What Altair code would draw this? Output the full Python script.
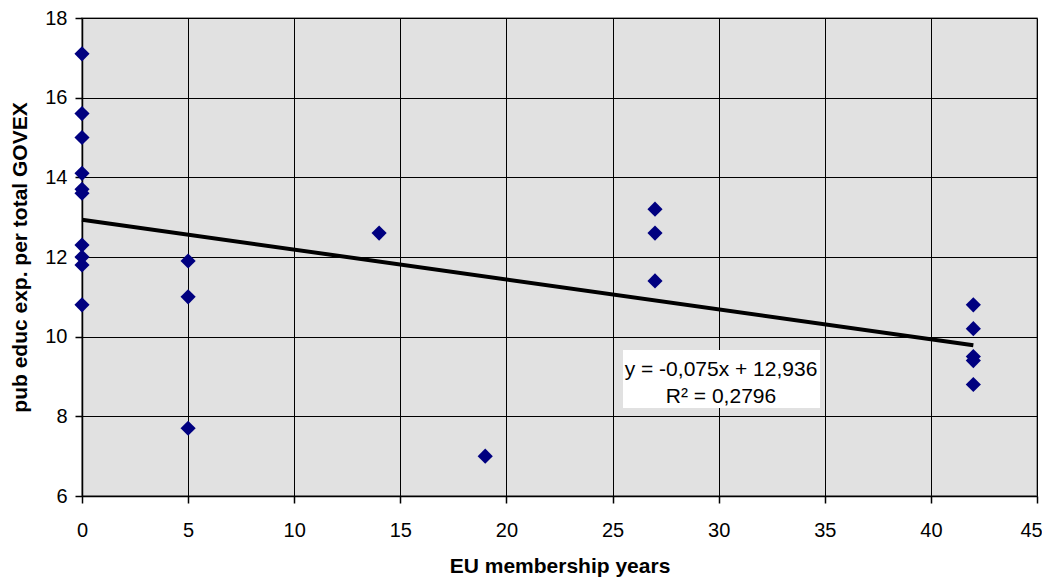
import altair as alt
import pandas as pd

years = [0, 0, 0, 0, 0, 0, 0, 0, 0, 0,
         5, 5, 5,
         14,
         19,
         27, 27, 27,
         42, 42, 42, 42, 42]
share = [17.1, 15.6, 15.0, 14.1, 13.7, 13.6, 12.3, 12.0, 11.8, 10.8,
         11.9, 11.0, 7.7,
         12.6,
         7.0,
         13.2, 12.6, 11.4,
         10.8, 10.2, 9.5, 9.4, 8.8]
eq_lines = ["y = -0,075x + 12,936", "R² = 0,2796"]

df = pd.DataFrame({"x": years, "y": share})

W, H = 955, 478
xs = alt.Scale(domain=[0, 45], nice=False, zero=False)
ys = alt.Scale(domain=[6, 18], nice=False, zero=False)
xax = alt.Axis(
    values=list(range(0, 46, 5)),
    labelOffset={"condition": {"test": "datum.value == 45", "value": -6}, "value": 0},
)
yax = alt.Axis(values=list(range(6, 19, 2)))
xtitle = "EU membership years"
ytitle = "pub educ exp. per total GOVEX"

base = alt.Chart(df)

pts = base.mark_point(shape="diamond", filled=True, size=230, color="#000080", opacity=1).encode(
    x=alt.X("x:Q", scale=xs, title=xtitle, axis=xax),
    y=alt.Y("y:Q", scale=ys, title=ytitle, axis=yax),
)

reg = base.transform_regression("x", "y", extent=[0, 42]).mark_line(color="black", strokeWidth=4).encode(
    x=alt.X("x:Q", scale=xs, title=xtitle, axis=xax),
    y=alt.Y("y:Q", scale=ys, title=ytitle, axis=yax),
)

box = alt.Chart(pd.DataFrame({"a": [0]})).mark_rect(color="white").encode(
    x=alt.value(541), x2=alt.value(738), y=alt.value(332), y2=alt.value(390)
)
txt1 = alt.Chart(pd.DataFrame({"t": [eq_lines[0]]})).mark_text(
    font="Liberation Sans", fontSize=21, color="black", align="center", baseline="middle"
).encode(text="t:N", x=alt.value(639), y=alt.value(352))
txt2 = alt.Chart(pd.DataFrame({"t": [eq_lines[1]]})).mark_text(
    font="Liberation Sans", fontSize=21, color="black", align="center", baseline="middle"
).encode(text="t:N", x=alt.value(639), y=alt.value(379))

chart = alt.layer(reg, pts, box, txt1, txt2).properties(
    width=W, height=H,
    autosize=alt.AutoSizeParams(type="none"),
    padding={"left": 74, "top": 10, "right": 5, "bottom": 84},
).configure_view(
    fill="#E1E1E1", stroke="#808080", strokeWidth=1.5
).configure_axis(
    grid=True, gridColor="black", gridWidth=1, gridOpacity=1,
    domain=True, domainColor="black", domainWidth=1.5,
    ticks=True, tickColor="black", tickSize=7, tickWidth=1.5,
    labelFlush=False,
    labelFont="Liberation Sans", labelFontSize=20, labelColor="black",
    titleFont="Liberation Sans", titleFontSize=21, titleFontWeight="bold", titleColor="black",
).configure_axisX(
    labelPadding=17, titlePadding=15
).configure_axisY(
    labelPadding=8, titlePadding=14
)

chart.save("out.html", embed_options={"renderer": "svg", "actions": False})
